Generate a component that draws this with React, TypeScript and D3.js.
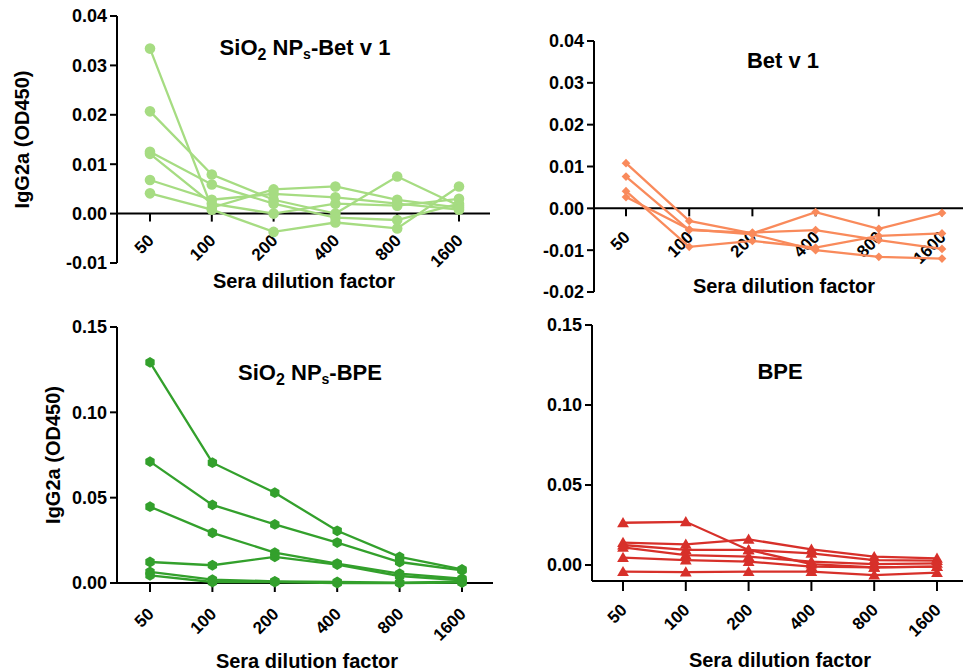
import React from 'react';
import * as d3 from 'd3';

// dilution steps on the x axis
const dilutions = ["50", "100", "200", "400", "800", "1600"];

// IgG2a OD450, one row per mouse
const npBetV1 = [
  [0.0334, 0.0012, 0.0049, 0.0055, 0.0028, 0.0012],
  [0.0207, 0.0079, 0.0028, 0.0000, 0.0075, 0.0016],
  [0.0125, 0.0059, 0.0020, -0.0008, -0.0013, 0.0020],
  [0.0121, 0.0020, 0.0000, 0.0020, 0.0016, 0.0030],
  [0.0068, 0.0028, 0.0040, 0.0033, 0.0020, 0.0008],
  [0.0041, 0.0008, -0.0037, -0.0018, -0.0030, 0.0055],
];

const betV1 = [
  [0.0108, -0.0030, -0.0060, -0.0009, -0.0049, -0.0011],
  [0.0076, -0.0052, -0.0058, -0.0052, -0.0076, -0.0097],
  [0.0041, -0.0092, -0.0078, -0.0094, -0.0066, -0.0060],
  [0.0027, -0.0050, -0.0062, -0.0100, -0.0116, -0.0120],
];

const npBpe = [
  [0.1293, 0.0705, 0.0529, 0.0306, 0.0153, 0.0080],
  [0.0711, 0.0458, 0.0343, 0.0237, 0.0123, 0.0074],
  [0.0447, 0.0294, 0.0178, 0.0114, 0.0055, 0.0025],
  [0.0123, 0.0104, 0.0153, 0.0108, 0.0041, 0.0016],
  [0.0065, 0.0020, 0.0010, 0.0006, 0.0002, 0.0008],
  [0.0045, 0.0006, 0.0006, 0.0000, -0.0001, 0.0003],
];

const bpe = [
  [0.0264, 0.0270, 0.0094, 0.0006, -0.0015, -0.0010],
  [0.0140, 0.0129, 0.0160, 0.0098, 0.0052, 0.0042],
  [0.0125, 0.0094, 0.0094, 0.0073, 0.0031, 0.0027],
  [0.0110, 0.0062, 0.0052, 0.0021, 0.0006, 0.0010],
  [0.0046, 0.0031, 0.0021, -0.0010, -0.0015, -0.0010],
  [-0.0042, -0.0044, -0.0042, -0.0042, -0.0063, -0.0048],
];

const ticksBetTL = [-0.01, 0, 0.01, 0.02, 0.03, 0.04];
const ticksBetTR = [-0.02, -0.01, 0, 0.01, 0.02, 0.03, 0.04];
const ticksBpe = [0, 0.05, 0.1, 0.15];

const font = "Arial, 'Liberation Sans', Helvetica, sans-serif";

function Title({ x, y, main, np }) {
  // SiO2 NPs-... with subscripts
  if (!np) {
    return <text x={x} y={y} textAnchor="middle" fontSize={22} fontWeight="bold" fontFamily={font}>{main}</text>;
  }
  return (
    <text x={x} y={y} textAnchor="middle" fontSize={22} fontWeight="bold" fontFamily={font}>
      <tspan>SiO</tspan>
      <tspan dy={5} fontSize={16}>2</tspan>
      <tspan dy={-5}> NP</tspan>
      <tspan dy={4} fontSize={14}>s</tspan>
      <tspan dy={-4}>-{main}</tspan>
    </text>
  );
}

function Marker({ type, color }) {
  if (type === "circle") return <circle r={5.3} fill={color} />;
  if (type === "hex") {
    const pts = d3.range(6).map(i => {
      const a = Math.PI / 6 + i * Math.PI / 3;
      return [5.4 * Math.cos(a), 5.4 * Math.sin(a)];
    });
    return <path d={d3.line()(pts) + "Z"} fill={color} />;
  }
  if (type === "diamond") return <path d={d3.symbol(d3.symbolSquare, 38)()} transform="rotate(45)" fill={color} />;
  return <path d={d3.symbol(d3.symbolTriangle, 60)()} transform="translate(0,1)" fill={color} />;
}

function Panel(p) {
  const y = d3.scaleLinear().domain(p.domain).range([p.bottom, p.top]);
  const x = d3.scalePoint().domain(dilutions).range([p.x0, p.x1]);
  const axisY = p.xAtZero ? y(0) : p.bottom;
  const line = d3.line<number>().x((d, i) => x(dilutions[i])).y(d => y(d));

  return (
    <g fontFamily={font}>
      {/* y axis */}
      <line x1={p.left} x2={p.left} y1={p.top} y2={p.bottom} stroke="#000" strokeWidth={2} />
      {p.ticks.map(t => (
        <g key={t} transform={`translate(0,${y(t)})`}>
          <line x1={p.left - 7} x2={p.left} stroke="#000" strokeWidth={2} />
          <text x={p.left - 10} dy="0.36em" textAnchor="end" fontSize={18} fontWeight="bold">{t.toFixed(2)}</text>
        </g>
      ))}
      {/* x axis */}
      <line x1={p.left} x2={p.axisEnd} y1={axisY} y2={axisY} stroke="#000" strokeWidth={2} />
      {dilutions.map(d => (
        <g key={d} transform={`translate(${x(d)},${axisY})`}>
          <line y1={0} y2={p.tickLen} stroke="#000" strokeWidth={2} />
          <text transform={`translate(5,${p.labelDy}) rotate(-45)`} textAnchor="end" fontSize={17} fontWeight="bold">{d}</text>
        </g>
      ))}
      {/* series */}
      {p.data.map((s, i) => (
        <g key={i}>
          <path d={line(s)} fill="none" stroke={p.color} strokeWidth={2.3} />
          {s.map((v, j) => (
            <g key={j} transform={`translate(${x(dilutions[j])},${y(v)})`}>
              <Marker type={p.marker} color={p.color} />
            </g>
          ))}
        </g>
      ))}
      <Title x={p.titleX} y={p.titleY} main={p.title} np={p.np} />
      <text x={p.xlabX} y={p.xlabY} textAnchor="middle" fontSize={20} fontWeight="bold">Sera dilution factor</text>
      {p.ylabX && (
        <text transform={`translate(${p.ylabX},${(p.top + p.bottom) / 2}) rotate(-90)`} textAnchor="middle" dy="0.35em" fontSize={20} fontWeight="bold">IgG2a (OD450)</text>
      )}
    </g>
  );
}

export default function App() {
  return (
    <div style={{ position: 'absolute', left: 0, top: 0 }}>
      <svg width={963} height={672} style={{ display: 'block', background: '#fff' }}>
        <Panel data={npBetV1} color="#a6dc82" marker="circle" left={117} top={16} bottom={263}
          domain={[-0.01, 0.04]} ticks={ticksBetTL} x0={150} x1={459} axisEnd={490} xAtZero tickLen={8} labelDy={28}
          title="Bet v 1" np titleX={305} titleY={55} xlabX={304} xlabY={288} ylabX={22} />
        <Panel data={betV1} color="#f98a5b" marker="diamond" left={594} top={41} bottom={292}
          domain={[-0.02, 0.04]} ticks={ticksBetTR} x0={626} x1={942} axisEnd={963} xAtZero tickLen={8} labelDy={30}
          title="Bet v 1" titleX={783} titleY={68} xlabX={784} xlabY={293} />
        <Panel data={npBpe} color="#33a02c" marker="hex" left={117} top={327} bottom={583}
          domain={[0, 0.15]} ticks={ticksBpe} x0={150} x1={462} axisEnd={493} tickLen={9} labelDy={32}
          title="BPE" np titleX={310} titleY={380} xlabX={307} xlabY={668} ylabX={53} />
        <Panel data={bpe} color="#d7302a" marker="triangle" left={592} top={325} bottom={581}
          domain={[-0.01, 0.15]} ticks={ticksBpe} x0={623} x1={937} axisEnd={963} tickLen={10} labelDy={30}
          title="BPE" titleX={780} titleY={379} xlabX={780} xlabY={667} />
      </svg>
    </div>
  );
}
